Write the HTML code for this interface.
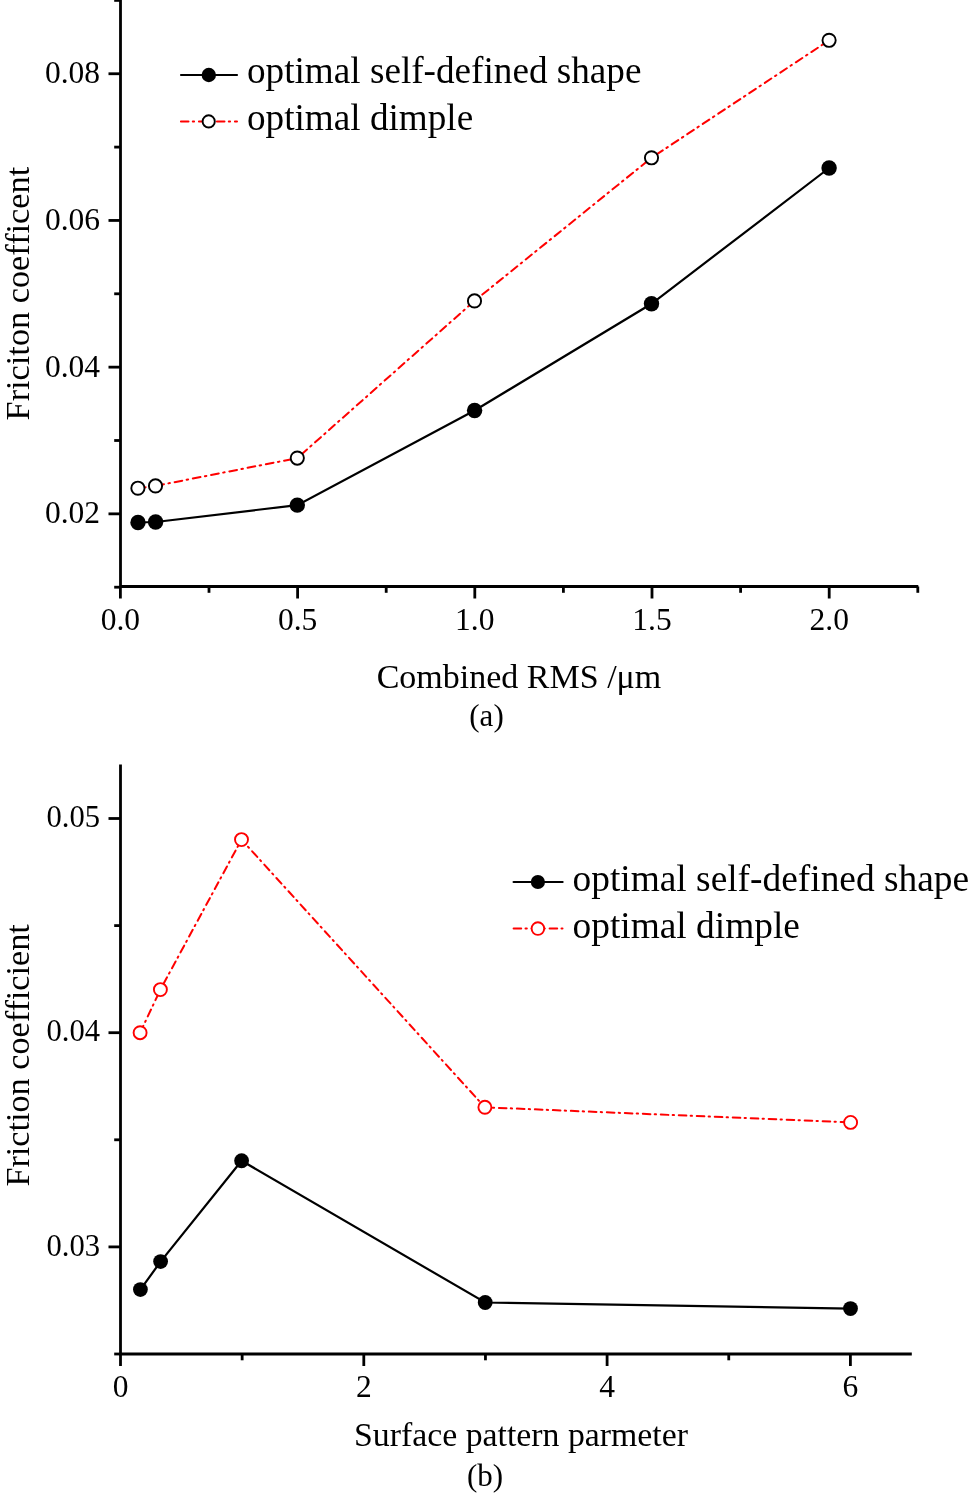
<!DOCTYPE html>
<html><head><meta charset="utf-8"><style>
html,body{margin:0;padding:0;background:#fff;}
body{width:969px;height:1495px;overflow:hidden;}
svg{display:block;will-change:transform;}
text{font-family:"Liberation Serif", serif;fill:#000;}
.t{will-change:transform;}
</style></head><body>
<svg width="969" height="1495" viewBox="0 0 969 1495">
<path d="M120.5,0 V586.5 H918.3" fill="none" stroke="#000" stroke-width="2.8" stroke-linejoin="miter"/>
<line x1="114.2" y1="587.2" x2="120.5" y2="587.2" stroke="#000" stroke-width="2.8"/>
<line x1="108.5" y1="513.85" x2="120.5" y2="513.85" stroke="#000" stroke-width="2.8"/>
<text x="100" y="523.25" font-size="31.5" text-anchor="end" >0.02</text>
<line x1="114.2" y1="440.50000000000006" x2="120.5" y2="440.50000000000006" stroke="#000" stroke-width="2.8"/>
<line x1="108.5" y1="367.1500000000001" x2="120.5" y2="367.1500000000001" stroke="#000" stroke-width="2.8"/>
<text x="100" y="376.55000000000007" font-size="31.5" text-anchor="end" >0.04</text>
<line x1="114.2" y1="293.8" x2="120.5" y2="293.8" stroke="#000" stroke-width="2.8"/>
<line x1="108.5" y1="220.4500000000001" x2="120.5" y2="220.4500000000001" stroke="#000" stroke-width="2.8"/>
<text x="100" y="229.8500000000001" font-size="31.5" text-anchor="end" >0.06</text>
<line x1="114.2" y1="147.10000000000002" x2="120.5" y2="147.10000000000002" stroke="#000" stroke-width="2.8"/>
<line x1="108.5" y1="73.75" x2="120.5" y2="73.75" stroke="#000" stroke-width="2.8"/>
<text x="100" y="83.15" font-size="31.5" text-anchor="end" >0.08</text>
<line x1="114.2" y1="0.39999999999997726" x2="120.5" y2="0.39999999999997726" stroke="#000" stroke-width="2.8"/>
<line x1="120.4" y1="586.5" x2="120.4" y2="598.5" stroke="#000" stroke-width="2.8"/>
<text x="120.4" y="630" font-size="31.5" text-anchor="middle" >0.0</text>
<line x1="209.0" y1="586.5" x2="209.0" y2="592.8" stroke="#000" stroke-width="2.8"/>
<line x1="297.6" y1="586.5" x2="297.6" y2="598.5" stroke="#000" stroke-width="2.8"/>
<text x="297.6" y="630" font-size="31.5" text-anchor="middle" >0.5</text>
<line x1="386.19999999999993" y1="586.5" x2="386.19999999999993" y2="592.8" stroke="#000" stroke-width="2.8"/>
<line x1="474.79999999999995" y1="586.5" x2="474.79999999999995" y2="598.5" stroke="#000" stroke-width="2.8"/>
<text x="474.79999999999995" y="630" font-size="31.5" text-anchor="middle" >1.0</text>
<line x1="563.4" y1="586.5" x2="563.4" y2="592.8" stroke="#000" stroke-width="2.8"/>
<line x1="651.9999999999999" y1="586.5" x2="651.9999999999999" y2="598.5" stroke="#000" stroke-width="2.8"/>
<text x="651.9999999999999" y="630" font-size="31.5" text-anchor="middle" >1.5</text>
<line x1="740.5999999999999" y1="586.5" x2="740.5999999999999" y2="592.8" stroke="#000" stroke-width="2.8"/>
<line x1="829.1999999999999" y1="586.5" x2="829.1999999999999" y2="598.5" stroke="#000" stroke-width="2.8"/>
<text x="829.1999999999999" y="630" font-size="31.5" text-anchor="middle" >2.0</text>
<line x1="917.8" y1="586.5" x2="917.8" y2="592.8" stroke="#000" stroke-width="2.8"/>
<polyline points="137.9,488.2 155.5,485.9 297.3,458.1 474.5,300.9 651.5,157.8 829.1,40.3" fill="none" stroke="#f00" stroke-width="2" stroke-linecap="round" stroke-dasharray="7.8 4.5 1.5 4.8"/>
<polyline points="138.0,522.5 155.6,522.0 297.3,505.1 474.6,410.5 651.5,303.8 829.1,168.0" fill="none" stroke="#000" stroke-width="2.2"/>
<circle cx="138.0" cy="522.5" r="7.7" fill="#000"/>
<circle cx="155.6" cy="522.0" r="7.7" fill="#000"/>
<circle cx="297.3" cy="505.1" r="7.7" fill="#000"/>
<circle cx="474.6" cy="410.5" r="7.7" fill="#000"/>
<circle cx="651.5" cy="303.8" r="7.7" fill="#000"/>
<circle cx="829.1" cy="168.0" r="7.7" fill="#000"/>
<circle cx="137.9" cy="488.2" r="6.6" fill="#fff" stroke="#000" stroke-width="1.9"/>
<circle cx="155.5" cy="485.9" r="6.6" fill="#fff" stroke="#000" stroke-width="1.9"/>
<circle cx="297.3" cy="458.1" r="6.6" fill="#fff" stroke="#000" stroke-width="1.9"/>
<circle cx="474.5" cy="300.9" r="6.6" fill="#fff" stroke="#000" stroke-width="1.9"/>
<circle cx="651.5" cy="157.8" r="6.6" fill="#fff" stroke="#000" stroke-width="1.9"/>
<circle cx="829.1" cy="40.3" r="6.6" fill="#fff" stroke="#000" stroke-width="1.9"/>
<line x1="181" y1="75" x2="237" y2="75" stroke="#000" stroke-width="2.2" stroke-linecap="round"/>
<circle cx="208.8" cy="75" r="7.2" fill="#000"/>
<line x1="180.9" y1="121.4" x2="237" y2="121.4" stroke="#f00" stroke-width="2" stroke-linecap="round" stroke-dasharray="7.6 4.3 1.3 4.8"/>
<circle cx="208.7" cy="121.4" r="6.1" fill="#fff" stroke="#000" stroke-width="1.9"/>
<text x="247" y="83.3" font-size="37.2" text-anchor="start" >optimal self-defined shape</text>
<text x="247" y="129.8" font-size="37.2" text-anchor="start" >optimal dimple</text>
<text x="519" y="687.5" font-size="34" text-anchor="middle" >Combined RMS /μm</text>
<text x="486.5" y="726" font-size="31" text-anchor="middle" >(a)</text>
<text x="0" y="0" font-size="34.3" text-anchor="middle" transform="translate(28.6,293.6) rotate(-90)">Friciton coefficent</text>
<path d="M120.5,764.5 V1354.0 H911.8" fill="none" stroke="#000" stroke-width="2.8"/>
<line x1="114.2" y1="1354.0" x2="120.5" y2="1354.0" stroke="#000" stroke-width="2.8"/>
<line x1="108.5" y1="1246.9" x2="120.5" y2="1246.9" stroke="#000" stroke-width="2.8"/>
<text x="100" y="1255.5" font-size="30.6" text-anchor="end" >0.03</text>
<line x1="114.2" y1="1139.8" x2="120.5" y2="1139.8" stroke="#000" stroke-width="2.8"/>
<line x1="108.5" y1="1032.7" x2="120.5" y2="1032.7" stroke="#000" stroke-width="2.8"/>
<text x="100" y="1041.3" font-size="30.6" text-anchor="end" >0.04</text>
<line x1="114.2" y1="925.6000000000001" x2="120.5" y2="925.6000000000001" stroke="#000" stroke-width="2.8"/>
<line x1="108.5" y1="818.5" x2="120.5" y2="818.5" stroke="#000" stroke-width="2.8"/>
<text x="100" y="827.1" font-size="30.6" text-anchor="end" >0.05</text>
<line x1="120.5" y1="1354.0" x2="120.5" y2="1366.0" stroke="#000" stroke-width="2.8"/>
<text x="120.5" y="1396.5" font-size="31.5" text-anchor="middle" >0</text>
<line x1="242.15" y1="1354.0" x2="242.15" y2="1360.3" stroke="#000" stroke-width="2.8"/>
<line x1="363.8" y1="1354.0" x2="363.8" y2="1366.0" stroke="#000" stroke-width="2.8"/>
<text x="363.8" y="1396.5" font-size="31.5" text-anchor="middle" >2</text>
<line x1="485.45000000000005" y1="1354.0" x2="485.45000000000005" y2="1360.3" stroke="#000" stroke-width="2.8"/>
<line x1="607.1" y1="1354.0" x2="607.1" y2="1366.0" stroke="#000" stroke-width="2.8"/>
<text x="607.1" y="1396.5" font-size="31.5" text-anchor="middle" >4</text>
<line x1="728.75" y1="1354.0" x2="728.75" y2="1360.3" stroke="#000" stroke-width="2.8"/>
<line x1="850.4000000000001" y1="1354.0" x2="850.4000000000001" y2="1366.0" stroke="#000" stroke-width="2.8"/>
<text x="850.4000000000001" y="1396.5" font-size="31.5" text-anchor="middle" >6</text>
<polyline points="140.1,1032.7 160.4,989.6 241.5,839.6 484.9,1107.3 850.6,1122.4" fill="none" stroke="#f00" stroke-width="2" stroke-linecap="round" stroke-dasharray="7.6 4.3 1.3 4.8"/>
<polyline points="140.4,1289.6 160.6,1261.6 241.6,1160.75 485.2,1302.5 850.5,1308.6" fill="none" stroke="#000" stroke-width="2.2"/>
<circle cx="140.4" cy="1289.6" r="7.4" fill="#000"/>
<circle cx="160.6" cy="1261.6" r="7.4" fill="#000"/>
<circle cx="241.6" cy="1160.75" r="7.4" fill="#000"/>
<circle cx="485.2" cy="1302.5" r="7.4" fill="#000"/>
<circle cx="850.5" cy="1308.6" r="7.4" fill="#000"/>
<circle cx="140.1" cy="1032.7" r="6.5" fill="#fff" stroke="#f00" stroke-width="1.9"/>
<circle cx="160.4" cy="989.6" r="6.5" fill="#fff" stroke="#f00" stroke-width="1.9"/>
<circle cx="241.5" cy="839.6" r="6.5" fill="#fff" stroke="#f00" stroke-width="1.9"/>
<circle cx="484.9" cy="1107.3" r="6.5" fill="#fff" stroke="#f00" stroke-width="1.9"/>
<circle cx="850.6" cy="1122.4" r="6.5" fill="#fff" stroke="#f00" stroke-width="1.9"/>
<line x1="513.6" y1="882" x2="562.6" y2="882" stroke="#000" stroke-width="2.2" stroke-linecap="round"/>
<circle cx="537.9" cy="882" r="7.1" fill="#000"/>
<line x1="513.6" y1="928.6" x2="562.5" y2="928.6" stroke="#f00" stroke-width="2" stroke-linecap="round" stroke-dasharray="7.6 4.3 1.3 4.8"/>
<circle cx="537.9" cy="928.6" r="6.3" fill="#fff" stroke="#f00" stroke-width="1.9"/>
<text x="572.5" y="891" font-size="37.4" text-anchor="start" >optimal self-defined shape</text>
<text x="572.5" y="938" font-size="37.4" text-anchor="start" >optimal dimple</text>
<text x="521" y="1445.5" font-size="33.8" text-anchor="middle" >Surface pattern parmeter</text>
<text x="485" y="1486" font-size="31" text-anchor="middle" >(b)</text>
<text x="0" y="0" font-size="34.2" text-anchor="middle" transform="translate(28.8,1055.4) rotate(-90)">Friction coefficient</text>
</svg>
</body></html>
